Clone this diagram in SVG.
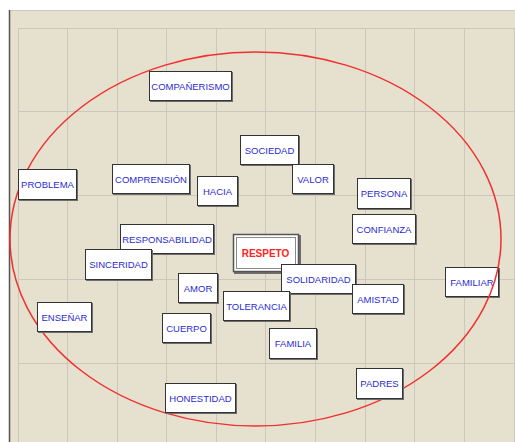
<svg xmlns="http://www.w3.org/2000/svg" width="515" height="442" viewBox="0 0 515 442">
<style>
.bg{fill:#e5e1ce}
.grid line{stroke:#cbc7bc;stroke-width:1}
.sh{fill:#6e6e6e}
.box{fill:#ffffff;stroke:#333333;stroke-width:1}
.lbl{font-family:"Liberation Sans",Arial,sans-serif;font-size:9.5px;fill:#2a2ad2;text-anchor:middle}
.main{font-family:"Liberation Sans",Arial,sans-serif;font-size:10px;font-weight:bold;fill:#ff2222;text-anchor:middle}
.ring{fill:none;stroke:#f03030;stroke-width:1.5}
</style>
<rect x="0" y="0" width="515" height="442" fill="#ffffff"/>
<rect class="bg" x="9" y="10" width="506" height="432"/>
<g class="grid">
<line x1="18.5" y1="28" x2="18.5" y2="442"/>
<line x1="67.5" y1="28" x2="67.5" y2="442"/>
<line x1="117.5" y1="28" x2="117.5" y2="442"/>
<line x1="166.5" y1="28" x2="166.5" y2="442"/>
<line x1="216.5" y1="28" x2="216.5" y2="442"/>
<line x1="265.5" y1="28" x2="265.5" y2="442"/>
<line x1="315.5" y1="28" x2="315.5" y2="442"/>
<line x1="365.5" y1="28" x2="365.5" y2="442"/>
<line x1="414.5" y1="28" x2="414.5" y2="442"/>
<line x1="464.5" y1="28" x2="464.5" y2="442"/>
<line x1="514.5" y1="28" x2="514.5" y2="442"/>
<line x1="18" y1="28.5" x2="515" y2="28.5"/>
<line x1="18" y1="111.5" x2="515" y2="111.5"/>
<line x1="18" y1="195.5" x2="515" y2="195.5"/>
<line x1="18" y1="279.5" x2="515" y2="279.5"/>
<line x1="18" y1="363.5" x2="515" y2="363.5"/>
</g>
<line x1="9" y1="10.5" x2="515" y2="10.5" stroke="#c8c8c8" stroke-width="1"/>
<line x1="9.5" y1="10" x2="9.5" y2="442" stroke="#555555" stroke-width="1.5"/>

<g id="node-familiar"><rect class="sh" x="446" y="268" width="54" height="30"/><rect class="box" x="445.5" y="267.5" width="53" height="29"/><text class="lbl" x="472" y="285.5">FAMILIAR</text></g>

<g id="ellipse"><ellipse class="ring" cx="255.5" cy="239" rx="245.5" ry="187"/></g>

<g id="connectors"></g>

<g id="node-companerismo"><rect class="sh" x="150" y="72" width="83" height="30"/><rect class="box" x="149.5" y="71.5" width="82" height="29"/><text class="lbl" x="190.5" y="89.5">COMPAÑERISMO</text></g>
<g id="node-problema"><rect class="sh" x="19" y="170" width="59" height="31"/><rect class="box" x="18.5" y="169.5" width="58" height="30"/><text class="lbl" x="47.5" y="188">PROBLEMA</text></g>
<g id="node-comprension"><rect class="sh" x="113" y="165" width="78" height="30"/><rect class="box" x="112.5" y="164.5" width="77" height="29"/><text class="lbl" x="151" y="182.5">COMPRENSIÓN</text></g>
<g id="node-hacia"><rect class="sh" x="198" y="177" width="41" height="30"/><rect class="box" x="197.5" y="176.5" width="40" height="29"/><text class="lbl" x="217.5" y="194.5">HACIA</text></g>
<g id="node-sociedad"><rect class="sh" x="241" y="136" width="59" height="30"/><rect class="box" x="240.5" y="135.5" width="58" height="29"/><text class="lbl" x="269.5" y="153.5">SOCIEDAD</text></g>
<g id="node-valor"><rect class="sh" x="293" y="165" width="42" height="30"/><rect class="box" x="292.5" y="164.5" width="41" height="29"/><text class="lbl" x="313" y="182.5">VALOR</text></g>
<g id="node-persona"><rect class="sh" x="358" y="179" width="54" height="31"/><rect class="box" x="357.5" y="178.5" width="53" height="30"/><text class="lbl" x="384" y="197">PERSONA</text></g>
<g id="node-confianza"><rect class="sh" x="353" y="215" width="64" height="30"/><rect class="box" x="352.5" y="214.5" width="63" height="29"/><text class="lbl" x="384" y="232.5">CONFIANZA</text></g>
<g id="node-responsabilidad"><rect class="sh" x="121" y="225" width="94" height="30"/><rect class="box" x="120.5" y="224.5" width="93" height="29"/><text class="lbl" x="167" y="242.5">RESPONSABILIDAD</text></g>
<g id="node-sinceridad"><rect class="sh" x="86" y="250" width="67" height="31"/><rect class="box" x="85.5" y="249.5" width="66" height="30"/><text class="lbl" x="118.5" y="268">SINCERIDAD</text></g>
<g id="node-respeto"><rect class="sh" x="234" y="235" width="67" height="39"/><rect x="233.5" y="234.5" width="65" height="37" fill="#ffffff" stroke="#555555" stroke-width="1.5"/><rect x="236.5" y="237.5" width="59" height="31" fill="none" stroke="#8a8a8a" stroke-width="1"/><text class="main" x="265.5" y="257">RESPETO</text></g>
<g id="node-solidaridad"><rect class="sh" x="282" y="265" width="75" height="30"/><rect class="box" x="281.5" y="264.5" width="74" height="29"/><text class="lbl" x="318.5" y="282.5">SOLIDARIDAD</text></g>
<g id="node-amistad"><rect class="sh" x="353" y="285" width="52" height="30"/><rect class="box" x="352.5" y="284.5" width="51" height="29"/><text class="lbl" x="378" y="302.5">AMISTAD</text></g>
<g id="node-tolerancia"><rect class="sh" x="224" y="292" width="67" height="30"/><rect class="box" x="223.5" y="291.5" width="66" height="29"/><text class="lbl" x="256.5" y="309.5">TOLERANCIA</text></g>
<g id="node-amor"><rect class="sh" x="179" y="274" width="40" height="30"/><rect class="box" x="178.5" y="273.5" width="39" height="29"/><text class="lbl" x="198" y="291.5">AMOR</text></g>
<g id="node-ensenar"><rect class="sh" x="38" y="303" width="55" height="30"/><rect class="box" x="37.5" y="302.5" width="54" height="29"/><text class="lbl" x="64.5" y="320.5">ENSEÑAR</text></g>
<g id="node-cuerpo"><rect class="sh" x="163" y="314" width="49" height="30"/><rect class="box" x="162.5" y="313.5" width="48" height="29"/><text class="lbl" x="186.5" y="331.5">CUERPO</text></g>
<g id="node-honestidad"><rect class="sh" x="166" y="384" width="71" height="30"/><rect class="box" x="165.5" y="383.5" width="70" height="29"/><text class="lbl" x="200.5" y="401.5">HONESTIDAD</text></g>
<g id="node-familia"><rect class="sh" x="270" y="329" width="48" height="31"/><rect class="box" x="269.5" y="328.5" width="47" height="30"/><text class="lbl" x="293" y="347">FAMILIA</text></g>
<g id="node-padres"><rect class="sh" x="357" y="369" width="47" height="31"/><rect class="box" x="356.5" y="368.5" width="46" height="30"/><text class="lbl" x="379.5" y="387">PADRES</text></g>
</svg>
